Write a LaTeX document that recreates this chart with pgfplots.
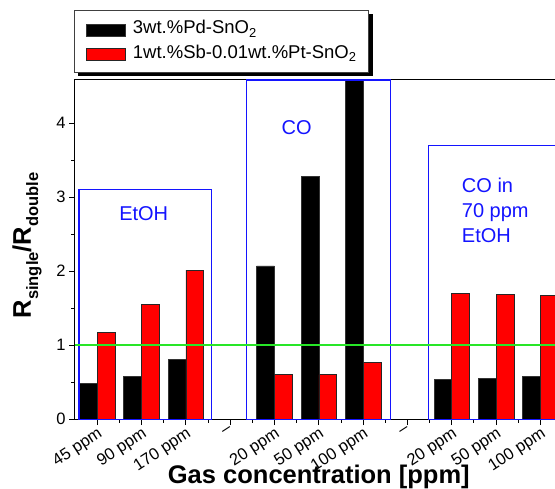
\documentclass[border=0pt]{standalone}
\usepackage{pgfplots}
\pgfplotsset{compat=1.18}
\usepackage{fontspec}
\setmainfont{Liberation Sans}
\usetikzlibrary{backgrounds}
\definecolor{myblue}{RGB}{20,20,255}
\definecolor{mygreen}{RGB}{40,230,40}
\definecolor{myred}{RGB}{255,0,0}
\begin{document}
\begin{tikzpicture}
\begin{axis}[
  scale only axis, width=487.6pt, height=339.7pt,
  xmin=-0.5, xmax=10.5, ymin=0, ymax=4.59,
  ybar, bar width=0.4,
  xtick={0,...,10},
  xticklabels={45 ppm,90 ppm,170 ppm,--,20 ppm,50 ppm,100 ppm,--,20 ppm,50 ppm,100 ppm},
  minor x tick num=1,
  ytick={0,1,2,3,4}, minor y tick num=1,
  tick align=outside, xtick pos=bottom, ytick pos=left,
  major tick length=6pt, minor tick length=3.5pt,
  axis line style={line width=1pt},
  every tick/.style={black, line width=0.9pt},
  tick label style={font=\fontsize{16.5}{18}\selectfont},
  /pgf/number format/assume math mode=true,
  x tick label style={rotate=33, anchor=north east, inner sep=1pt},
  xlabel={\textbf{Gas concentration [ppm]}},
  xlabel style={at={(axis description cs:0.5,0)}, yshift=-64pt, anchor=base, font=\fontsize{25.5}{28}\selectfont},
  legend style={name=leg, at={(axis description cs:0,1)}, anchor=south west, xshift=-1pt, yshift=7pt,
    draw=black!75, line width=0.7pt, fill=white,
    font=\fontsize{18.5}{20}\selectfont,
    inner xsep=12pt, inner ysep=8pt, row sep=3pt, column sep=7pt,
    cells={anchor=base west}, nodes={inner sep=0pt, text height=16pt, text depth=5.5pt}},
]
\addplot[fill=black, draw=black!80, line width=0.6pt, bar shift=-0.2,
  legend image code/.code={\draw[fill=black, draw=black!80] (0pt,-2pt) rectangle (39pt,10pt);}]
  coordinates {(0,0.48) (1,0.58) (2,0.81) (4,2.07) (5,3.28) (6,4.8) (8,0.54) (9,0.55) (10,0.58)};
\addplot[fill=myred, draw=black!85, line width=0.6pt, bar shift=0.2,
  legend image code/.code={\draw[fill=myred, draw=black!85] (0pt,-2pt) rectangle (39pt,10pt);}]
  coordinates {(0,1.17) (1,1.55) (2,2.01) (4,0.60) (5,0.60) (6,0.77) (8,1.70) (9,1.68) (10,1.67)};
\legend{3wt.\%Pd-SnO\textsubscript{2}, 1wt.\%Sb-0.01wt.\%Pt-SnO\textsubscript{2}}
\draw[myblue, line width=1.1pt] (axis cs:-0.41,-0.01) rectangle (axis cs:2.57,3.1);
\draw[myblue, line width=1.1pt] (axis cs:3.37,-0.01) rectangle (axis cs:6.61,4.58);
\draw[myblue, line width=1.1pt] (axis cs:7.47,-0.01) rectangle (axis cs:10.8,3.70);
\node[text=myblue, font=\fontsize{20}{25}\selectfont] at (axis cs:1.05,2.78) {EtOH};
\node[text=myblue, font=\fontsize{20}{25}\selectfont] at (axis cs:4.5,3.94) {CO};
\node[text=myblue, font=\fontsize{20}{25}\selectfont, align=left, anchor=west] at (axis cs:8.15,2.82) {CO in\\70 ppm\\EtOH};
\draw[mygreen, line width=1.4pt] (axis cs:-0.5,1) -- (axis cs:10.5,1);
\end{axis}
\node[rotate=90, anchor=base, font=\fontsize{25.5}{28}\selectfont] at (-44pt,173.5pt)
  {\textbf{R\raisebox{-0.28em}{\fontsize{16.5}{18}\selectfont single}/R\raisebox{-0.28em}{\fontsize{16.5}{18}\selectfont double}}};
\begin{pgfonlayer}{background}
\fill[black] ([shift={(4pt,-4pt)}]leg.south west) rectangle ([shift={(4pt,-4pt)}]leg.north east);
\end{pgfonlayer}
\pgfresetboundingbox
\path[use as bounding box] (-75pt,-69pt) rectangle (480pt,419pt);
\end{tikzpicture}
\end{document}
